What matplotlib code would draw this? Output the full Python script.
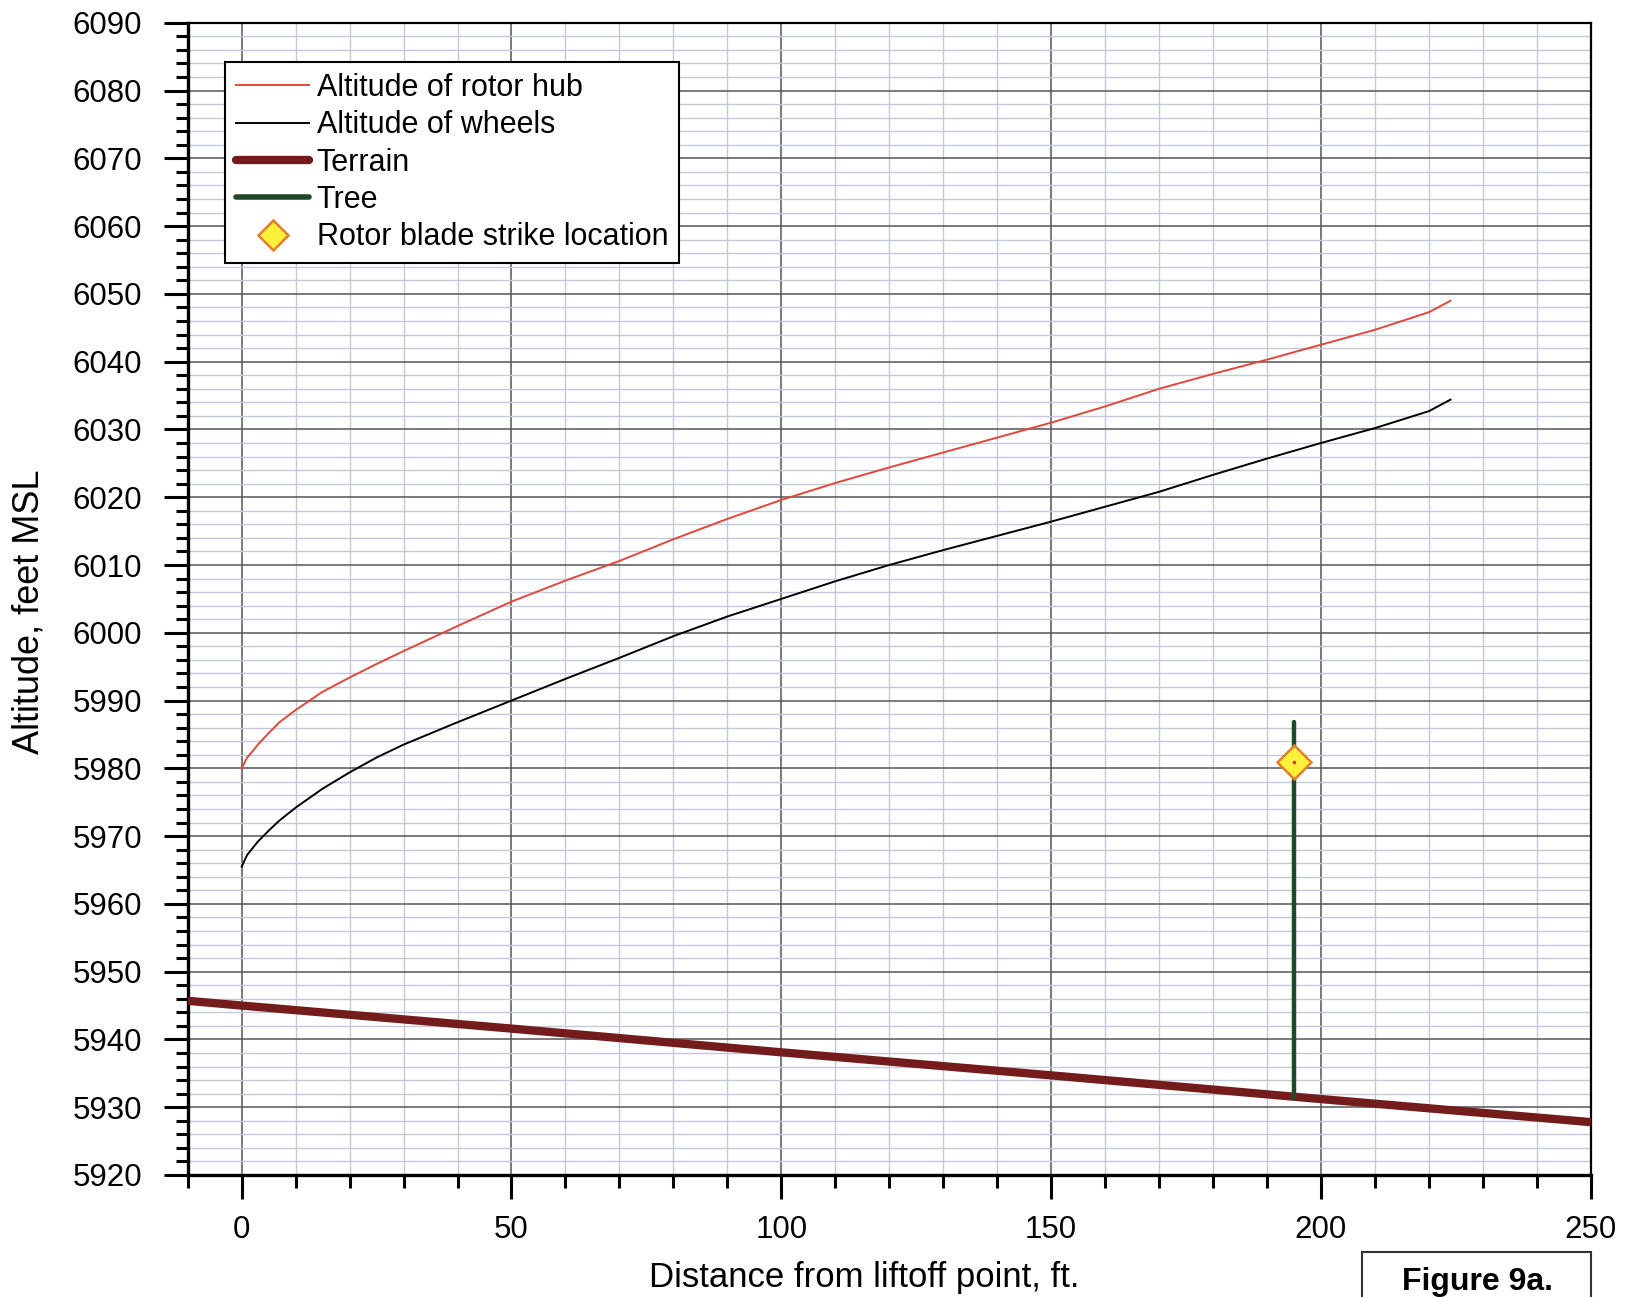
import matplotlib
matplotlib.use('Agg')
import matplotlib.pyplot as plt
from matplotlib.ticker import MultipleLocator
from matplotlib.patches import Rectangle
from matplotlib.lines import Line2D

plt.rcParams['font.family'] = ['Liberation Sans', 'DejaVu Sans']

# ---- data ----
dist = [0, 1, 2, 3, 5, 7, 10, 15, 20, 25, 30, 40, 50, 60, 70, 80, 90, 100, 110,
        120, 130, 140, 150, 160, 170, 180, 190, 200, 210, 220, 224]
hub = [5980.0, 5981.6, 5982.5, 5983.5, 5985.2, 5986.8, 5988.6, 5991.3, 5993.4,
       5995.4, 5997.3, 6001.0, 6004.6, 6007.7, 6010.6, 6013.8, 6016.8, 6019.6,
       6022.1, 6024.4, 6026.6, 6028.8, 6031.0, 6033.4, 6036.0, 6038.2, 6040.3,
       6042.5, 6044.7, 6047.3, 6049.0]
wheels = [5965.5, 5967.2, 5968.2, 5969.2, 5970.8, 5972.3, 5974.2, 5977.0, 5979.4,
          5981.6, 5983.5, 5986.8, 5990.0, 5993.2, 5996.3, 5999.5, 6002.4, 6005.0,
          6007.6, 6010.0, 6012.2, 6014.3, 6016.4, 6018.6, 6020.8, 6023.3, 6025.7,
          6028.0, 6030.2, 6032.7, 6034.4]
terrain_x = [-10, 0, 50, 100, 150, 200, 250]
terrain_y = [5945.7, 5945.0, 5941.6, 5938.1, 5934.7, 5931.2, 5927.8]
tree_x = [195, 195]
tree_y = [5931.3, 5986.8]
strike_x = [195]
strike_y = [5981.0]

x_ticks = [0, 50, 100, 150, 200, 250]
y_ticks = list(range(5920, 6091, 10))

labels = ["Altitude of rotor hub", "Altitude of wheels", "Terrain", "Tree",
          "Rotor blade strike location"]

RED = '#e5463c'
MAROON = '#741c1c'
GREEN = '#1f4a2a'

fig = plt.figure(figsize=(16.26, 12.97), dpi=100)
ax = fig.add_axes([0.11544, 0.09407, 0.86292, 0.88836])

ax.plot(terrain_x, terrain_y, color=MAROON, lw=6, solid_capstyle='butt', zorder=3)
ax.plot(tree_x, tree_y, color=GREEN, lw=3.2, solid_capstyle='round', zorder=4)
ax.plot(dist, hub, color=RED, lw=1.4, zorder=5)
ax.plot(dist, wheels, color='black', lw=1.4, zorder=5)
ax.plot(strike_x, strike_y, marker='D', markersize=17, markerfacecolor='#fff03c',
        markeredgecolor='#e0802a', markeredgewidth=1.8, linestyle='none', zorder=6)
ax.plot(strike_x, strike_y, marker='o', markersize=1.5, color='#d03020',
        linestyle='none', zorder=7)

ax.set_xlim(-10, 250)
ax.set_ylim(5920, 6090)
ax.set_xticks(x_ticks)
ax.set_yticks(y_ticks)
ax.xaxis.set_minor_locator(MultipleLocator(10))
ax.yaxis.set_minor_locator(MultipleLocator(2))
ax.set_axisbelow(True)
ax.grid(which='minor', color='#c4c8d8', lw=1.0)
ax.grid(which='major', color='#555555', lw=1.1)

ax.tick_params(which='major', direction='out', length=17, width=2.2,
               labelsize=22.5, pad=12)
ax.tick_params(axis='y', which='major', pad=16)
ax.tick_params(which='minor', direction='out', length=9, width=2.2)
for s in ['left', 'bottom']:
    ax.spines[s].set_linewidth(2.4)
for s in ['top', 'right']:
    ax.spines[s].set_linewidth(1.6)

fig.text(0.5314, 0.0150, "Distance from liftoff point, ft.", fontsize=25,
         ha='center', va='center')
fig.text(0.0180, 0.528, "Altitude, feet MSL", fontsize=26, rotation=90,
         ha='center', va='center')

handles = [
    Line2D([], [], color=RED, lw=1.4),
    Line2D([], [], color='black', lw=1.4),
    Line2D([], [], color=MAROON, lw=6, solid_capstyle='round'),
    Line2D([], [], color=GREEN, lw=4, solid_capstyle='round'),
    Line2D([], [], marker='D', markersize=15, markerfacecolor='#fff03c',
           markeredgecolor='#e0802a', markeredgewidth=1.8, linestyle='none'),
]
leg = ax.legend(handles, labels, loc='upper left', bbox_to_anchor=(0.0266, 0.966),
                borderaxespad=0, fontsize=22, frameon=True, fancybox=False,
                edgecolor='black', framealpha=1, handlelength=2.4,
                handletextpad=0.24, labelspacing=0.24, borderpad=0.36)
leg.get_frame().set_linewidth(1.5)
leg.set_zorder(10)

fig.patches.append(Rectangle((1362 / 1626, -0.02), (1591 - 1362) / 1626,
                             (1297 - 1252) / 1297 + 0.02, transform=fig.transFigure,
                             fill=False, edgecolor='#333333', lw=1.5, clip_on=False))
fig.text(1477 / 1626, 1 - 1282 / 1297, "Figure 9a.", fontsize=23, fontweight='bold',
         ha='center', va='center')

fig.savefig('out.png', dpi=100)
